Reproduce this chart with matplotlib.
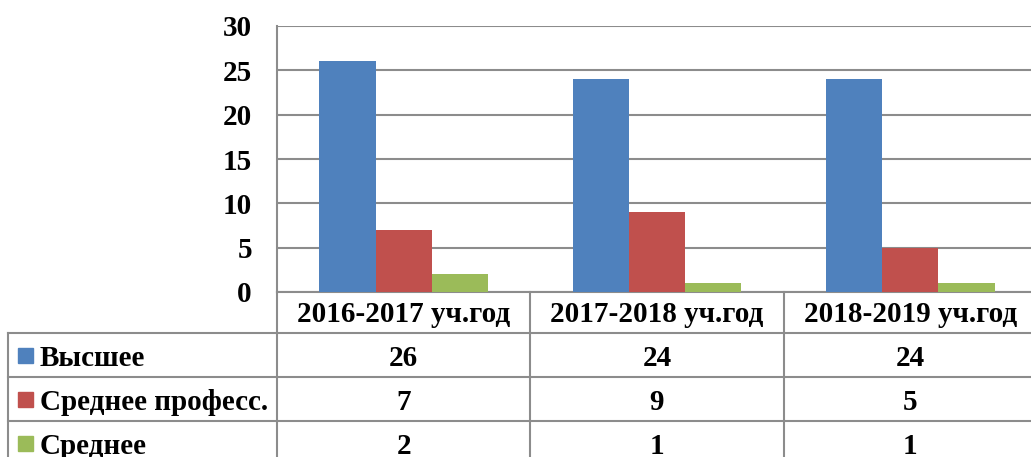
import numpy as np
import matplotlib
matplotlib.use('Agg')
import matplotlib.pyplot as plt
from matplotlib.transforms import blended_transform_factory
from matplotlib.patches import Rectangle

# данные
years = ['2016-2017 уч.год', '2017-2018 уч.год', '2018-2019 уч.год']
series_names = ['Высшее', 'Среднее професс.', 'Среднее']
vysshee = [26, 24, 24]
sred_prof = [7, 9, 5]
srednee = [2, 1, 1]
colors = ['#4F81BD', '#C0504D', '#9BBB59']

W, H = 1031, 457
FS = 21
plt.rcParams['font.family'] = ['Liberation Serif', 'DejaVu Serif']
plt.rcParams['font.weight'] = 'bold'
grid_c = '#8C8C8C'

fig = plt.figure(figsize=(W / 100, H / 100), dpi=100)
# область графика в пикселях
left, right, top, bottom = 277, 1037, 26, 292
ax = fig.add_axes([left / W, 1 - bottom / H, (right - left) / W, (bottom - top) / H])

x = np.arange(len(years))
w = 1 / 4.5
for k, vals in enumerate([vysshee, sred_prof, srednee]):
    ax.bar(x + (k - 1) * w, vals, w, color=colors[k], zorder=3)

ax.set_xlim(-0.5, len(years) - 0.5)
ax.set_ylim(0, 30)
ax.set_yticks(np.arange(0, 31, 5))
ax.set_yticklabels([str(v) for v in range(0, 31, 5)], fontsize=FS, fontweight='bold')
ax.tick_params(axis='y', length=0, pad=18)
ax.set_xticks([])
ax.yaxis.grid(True, color=grid_c, lw=1.5, zorder=0)
ax.set_axisbelow(True)
for s in ['top', 'right', 'bottom']:
    ax.spines[s].set_visible(False)
ax.spines['left'].set_color(grid_c)
ax.spines['left'].set_linewidth(1.5)

# таблица данных под графиком
tr = blended_transform_factory(ax.transData, fig.transFigure)
ff = fig.transFigure
row_edges = [292, 333, 377, 421, 465]
fy = lambda p: 1 - p / H
tab_left = 8
edges = np.arange(len(years) + 1) - 0.5

# горизонтальные линии
ax.plot([-0.5, len(years) - 0.5], [fy(row_edges[0])] * 2, transform=tr, color=grid_c, lw=1.5, clip_on=False)
for r in row_edges[1:4]:
    fig.add_artist(plt.Line2D([tab_left / W, 1.01], [fy(r)] * 2, transform=ff, color=grid_c, lw=1.5))
# вертикальные линии
for e in edges:
    ax.plot([e, e], [fy(row_edges[0]), fy(row_edges[-1])], transform=tr, color=grid_c, lw=1.5, clip_on=False)
fig.add_artist(plt.Line2D([tab_left / W] * 2, [fy(row_edges[1]), fy(row_edges[-1])], transform=ff, color=grid_c, lw=1.5))

# заголовки столбцов
hc = (row_edges[0] + row_edges[1]) / 2 + 2
for i, yr in enumerate(years):
    ax.text(i, fy(hc), yr, transform=tr, ha='center', va='center', fontsize=FS, fontweight='bold')

# строки серий
for k, (name, vals) in enumerate(zip(series_names, [vysshee, sred_prof, srednee])):
    rc = (row_edges[k + 1] + row_edges[k + 2]) / 2 + 3
    fig.add_artist(Rectangle((18 / W, fy(rc + 5)), 15 / W, 15 / H, transform=ff, color=colors[k]))
    fig.text(40 / W, fy(rc), name, ha='left', va='center', fontsize=FS, fontweight='bold')
    for i, v in enumerate(vals):
        ax.text(i, fy(rc), str(v), transform=tr, ha='center', va='center', fontsize=FS, fontweight='bold')

fig.savefig('out.png', dpi=100)
